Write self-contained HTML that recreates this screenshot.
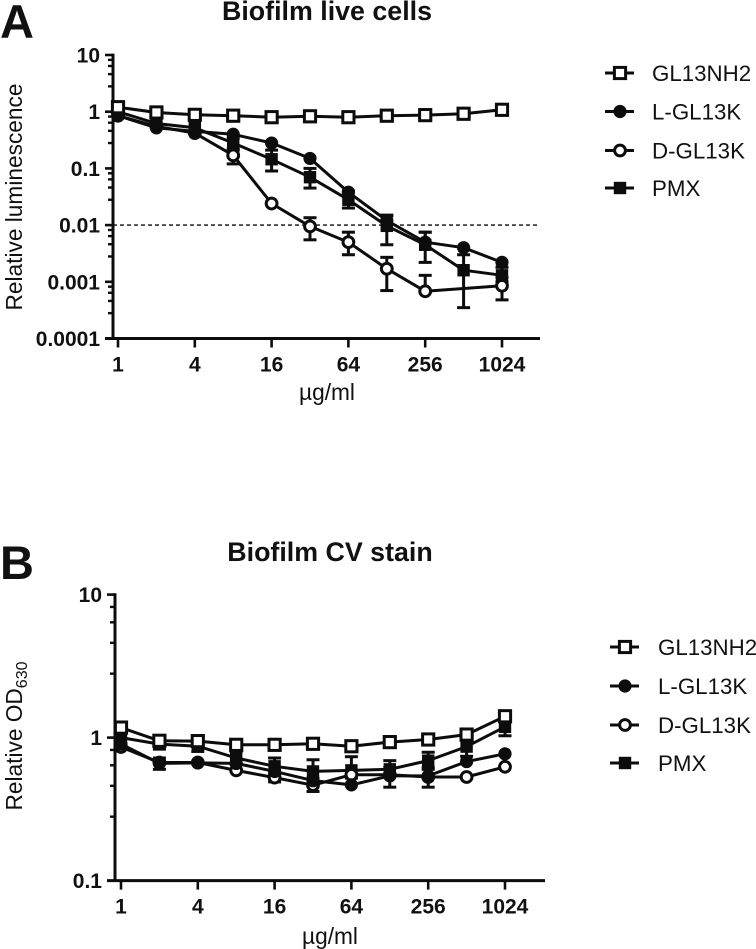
<!DOCTYPE html>
<html lang="en">
<head>
<meta charset="utf-8">
<title>Biofilm live cells and CV stain</title>
<style>
html,body{margin:0;padding:0;background:#fff;}
svg{display:block;font-family:"Liberation Sans",Arial,sans-serif;}
text{fill:#111;}
.tick{font-weight:bold;font-size:21px;}
.title{font-weight:bold;font-size:26.8px;}
.panel{font-weight:bold;font-size:47px;}
.leg{font-size:22.3px;}
.axt{font-size:22.7px;}
</style>
</head>
<body>
<svg id="fig" xmlns="http://www.w3.org/2000/svg" width="756" height="949" viewBox="0 0 756 949">
  <text class="panel" x="0" y="38">A</text>
  <text class="title" x="327" y="20" text-anchor="middle">Biofilm live cells</text>
  <text class="axt" transform="translate(22,197) rotate(-90)" text-anchor="middle">Relative luminescence</text>
  <text class="axt" x="327" y="400" text-anchor="middle">µg/ml</text>

  <text class="panel" x="0" y="579">B</text>
  <text class="title" x="330" y="561" text-anchor="middle">Biofilm CV stain</text>
  <text class="axt" transform="translate(22,736) rotate(-90)" text-anchor="middle">Relative OD<tspan font-size="16" dy="5">630</tspan></text>
  <text class="axt" x="330" y="944" text-anchor="middle">µg/ml</text>
  <g id="chartA"></g>
  <g id="chartB"></g>
</svg>
<script>
var doses = [1, 2, 4, 8, 16, 32, 64, 128, 256, 512, 1024];
var xTickValues = [1, 4, 16, 64, 256, 1024];
var xTickLabels = ["1", "4", "16", "64", "256", "1024"];
var minorMultipliers = [2.8, 4.6, 6.4, 8.2];
var seriesNames = ["GL13NH2", "L-GL13K", "D-GL13K", "PMX"];

var aYTicks = [10, 1, 0.1, 0.01, 0.001, 0.0001];
var aYLabels = ["10", "1", "0.1", "0.01", "0.001", "0.0001"];
var aThreshold = 0.01;
var aNH2 = [1.2, 0.97, 0.88, 0.85, 0.8, 0.83, 0.8, 0.85, 0.87, 0.92, 1.08];
var aL   = [0.85, 0.52, 0.45, 0.4, 0.28, 0.15, 0.038, 0.012, 0.005, 0.004, 0.0022];
var aD   = [0.85, 0.55, 0.42, 0.17, 0.024, 0.0095, 0.005, 0.0017, 0.00068, null, 0.00085];
var aPMX = [1.0, 0.62, 0.52, 0.28, 0.145, 0.07, 0.028, 0.0097, 0.0045, 0.0016, 0.0013];
var aNH2Lo = [null, null, null, null, null, null, null, null, null, null, null];
var aNH2Hi = [null, null, null, null, null, null, null, null, null, null, null];
var aLLo = [null, null, null, null, null, null, null, null, null, null, null];
var aLHi = [null, null, null, null, null, null, null, 0.0145, 0.0075, null, null];
var aDLo = [null, null, null, 0.12, null, 0.0055, 0.003, 0.0007, null, null, 0.00048];
var aDHi = [null, null, null, 0.21, null, 0.0135, 0.0075, 0.0027, 0.0013, null, 0.0012];
var aPMXLo = [null, null, null, 0.22, 0.09, 0.045, 0.02, 0.0045, 0.0022, 0.00035, 0.001];
var aPMXHi = [null, null, null, 0.34, 0.21, 0.1, 0.04, 0.015, 0.0075, 0.003, 0.0018];

var bYTicks = [10, 1, 0.1];
var bYLabels = ["10", "1", "0.1"];
var bNH2 = [1.175, 0.95, 0.945, 0.89, 0.89, 0.905, 0.87, 0.93, 0.97, 1.05, 1.41];
var bL   = [0.9, 0.66, 0.665, 0.66, 0.58, 0.5, 0.467, 0.54, 0.54, 0.68, 0.77];
var bD   = [0.86, 0.67, 0.67, 0.59, 0.525, 0.465, 0.55, 0.55, 0.53, 0.53, 0.625];
var bPMX = [1.0, 0.9, 0.87, 0.72, 0.63, 0.58, 0.59, 0.6, 0.69, 0.865, 1.19];
var bNH2Lo = [null, null, null, null, 0.83, null, null, null, null, null, null];
var bNH2Hi = [null, null, null, null, null, null, null, null, null, null, null];
var bLLo = [null, 0.6, null, null, null, null, null, 0.45, 0.45, null, null];
var bLHi = [null, 0.72, null, null, null, null, null, 0.62, 0.62, null, null];
var bDLo = [null, null, null, null, 0.49, 0.42, null, null, null, null, null];
var bDHi = [null, null, null, null, null, 0.52, null, null, null, null, null];
var bPMXLo = [null, 0.83, 0.8, 0.65, 0.55, 0.5, 0.52, 0.54, 0.6, 0.74, 1.03];
var bPMXHi = [null, 0.98, 0.95, 0.8, 0.72, 0.7, 0.735, 0.69, 0.79, 1.0, 1.3];

var NS = "http://www.w3.org/2000/svg";
var INK = "#0c0c0c";
var LW = 3;

function mk(parent, tag, attrs) {
  var el = document.createElementNS(NS, tag);
  for (var k in attrs) el.setAttribute(k, attrs[k]);
  parent.appendChild(el);
  return el;
}

function drawLine(parent, x1, y1, x2, y2, w, name) {
  var el = mk(parent, "line", {x1: x1, y1: y1, x2: x2, y2: y2, stroke: INK, "stroke-width": w});
  
  
  return el;
}

function drawMarker(parent, kind, x, y, name) {
  var el;
  if (kind === "open-square") {
    el = mk(parent, "rect", {x: x - 5.6, y: y - 5.6, width: 11.2, height: 11.2, fill: "#fff", stroke: INK, "stroke-width": 3});
  } else if (kind === "filled-circle") {
    el = mk(parent, "circle", {cx: x, cy: y, r: 6.6, fill: INK});
  } else if (kind === "open-circle") {
    el = mk(parent, "circle", {cx: x, cy: y, r: 5.4, fill: "#fff", stroke: INK, "stroke-width": 3});
  } else {
    el = mk(parent, "rect", {x: x - 6.2, y: y - 6.2, width: 12.4, height: 12.4, fill: INK});
  }
  
  
  return el;
}

var markerKinds = {"GL13NH2": "open-square", "L-GL13K": "filled-circle", "D-GL13K": "open-circle", "PMX": "filled-square"};

function drawChart(cfg) {
  var root = document.getElementById(cfg.id);
  var xScale = function (v) { return cfg.x1 + Math.log2(v) * cfg.xStep; };
  var yScale = function (v) { return cfg.yRef + (0 - Math.log10(v)) * cfg.decade; };
  var yBottom = yScale(cfg.yTicks[cfg.yTicks.length - 1]);
  var yTop = yScale(cfg.yTicks[0]);
  var i, j;

  drawLine(root, cfg.axisX, yTop - 1.4, cfg.axisX, yBottom + 1.4, LW, cfg.prefix + "-y-axis");
  drawLine(root, cfg.axisX - 8, yBottom, cfg.xEnd, yBottom, LW, cfg.prefix + "-x-axis");

  for (i = 0; i < cfg.yTicks.length; i++) {
    var ty = yScale(cfg.yTicks[i]);
    if (i < cfg.yTicks.length - 1) {
      drawLine(root, cfg.axisX - 8, ty, cfg.axisX, ty, 2.6, cfg.prefix + "-y-tick");
      for (j = 0; j < minorMultipliers.length; j++) {
        var my = yScale(cfg.yTicks[i + 1] * minorMultipliers[j]);
        drawLine(root, cfg.axisX - 5, my, cfg.axisX, my, 2.4, cfg.prefix + "-y-minor-tick");
      }
    }
    var yl = mk(root, "text", {x: cfg.axisX - 13, y: ty + 7.5, "text-anchor": "end", "class": "tick"});
    
    
    yl.textContent = cfg.yLabels[i];
  }

  for (i = 0; i < xTickValues.length; i++) {
    var tx = xScale(xTickValues[i]);
    drawLine(root, tx, yBottom, tx, yBottom + 9, 2.6, cfg.prefix + "-x-tick");
    var xl = mk(root, "text", {x: tx, y: yBottom + 33, "text-anchor": "middle", "class": "tick"});
    
    
    xl.textContent = xTickLabels[i];
  }

  if (cfg.threshold) {
    var th = mk(root, "line", {x1: cfg.axisX, y1: yScale(cfg.threshold), x2: cfg.xEnd, y2: yScale(cfg.threshold), stroke: INK, "stroke-width": 1.4, "stroke-dasharray": "4 3"});
    
    
  }

  cfg.series.forEach(function (s) {
    var g = mk(root, "g", {});
    
    
    doses.forEach(function (d, k) {
      var px = xScale(d);
      var lo = s.lo[k], hi = s.hi[k], base = s.values[k];
      if (lo !== null && lo !== undefined) {
        drawLine(g, px, yScale(base === null ? lo : base), px, yScale(lo), LW, 'error-bar');
        drawLine(g, px - 6.5, yScale(lo), px + 6.5, yScale(lo), LW, 'error-cap');
      }
      if (hi !== null && hi !== undefined) {
        drawLine(g, px, yScale(base === null ? hi : base), px, yScale(hi), LW, 'error-bar');
        drawLine(g, px - 6.5, yScale(hi), px + 6.5, yScale(hi), LW, 'error-cap');
      }
    });
    var pts = [];
    doses.forEach(function (d, k) {
      if (s.values[k] !== null) pts.push(xScale(d).toFixed(1) + "," + yScale(s.values[k]).toFixed(1));
    });
    var pl = mk(g, "polyline", {points: pts.join(" "), fill: "none", stroke: INK, "stroke-width": LW, "stroke-linejoin": "round"});
    
    
    doses.forEach(function (d, k) {
      if (s.values[k] !== null) drawMarker(g, markerKinds[s.name], xScale(d), yScale(s.values[k]), 'data-point');
    });
  });

  seriesNames.forEach(function (name, k) {
    var lg = mk(root, "g", {});
    
    
    var ly = cfg.legY[k];
    drawLine(lg, cfg.legX, ly, cfg.legX + 29, ly, LW, 'legend-line');
    drawMarker(lg, markerKinds[name], cfg.legX + 15, ly, 'legend-marker');
    var lt = mk(lg, "text", {x: cfg.legTextX, y: ly + 8, "class": "leg"});
    
    
    lt.textContent = name;
  });
}

drawChart({
  id: "chartA", prefix: "chart-a",
  x1: 118, xStep: 38.4, axisX: 113, xEnd: 540, yRef: 111.7, decade: 56.7,
  yTicks: aYTicks, yLabels: aYLabels, threshold: aThreshold,
  legX: 605, legTextX: 652, legY: [73, 111.5, 150.5, 188],
  series: [
    {name: "PMX", values: aPMX, lo: aPMXLo, hi: aPMXHi},
    {name: "D-GL13K", values: aD, lo: aDLo, hi: aDHi},
    {name: "L-GL13K", values: aL, lo: aLLo, hi: aLHi},
    {name: "GL13NH2", values: aNH2, lo: aNH2Lo, hi: aNH2Hi}
  ]
});

drawChart({
  id: "chartB", prefix: "chart-b",
  x1: 121, xStep: 38.4, axisX: 115, xEnd: 545, yRef: 737.6, decade: 143,
  yTicks: bYTicks, yLabels: bYLabels, threshold: null,
  legX: 610, legTextX: 658, legY: [647, 686, 725, 763],
  series: [
    {name: "PMX", values: bPMX, lo: bPMXLo, hi: bPMXHi},
    {name: "D-GL13K", values: bD, lo: bDLo, hi: bDHi},
    {name: "L-GL13K", values: bL, lo: bLLo, hi: bLHi},
    {name: "GL13NH2", values: bNH2, lo: bNH2Lo, hi: bNH2Hi}
  ]
});
</script>
</body>
</html>
